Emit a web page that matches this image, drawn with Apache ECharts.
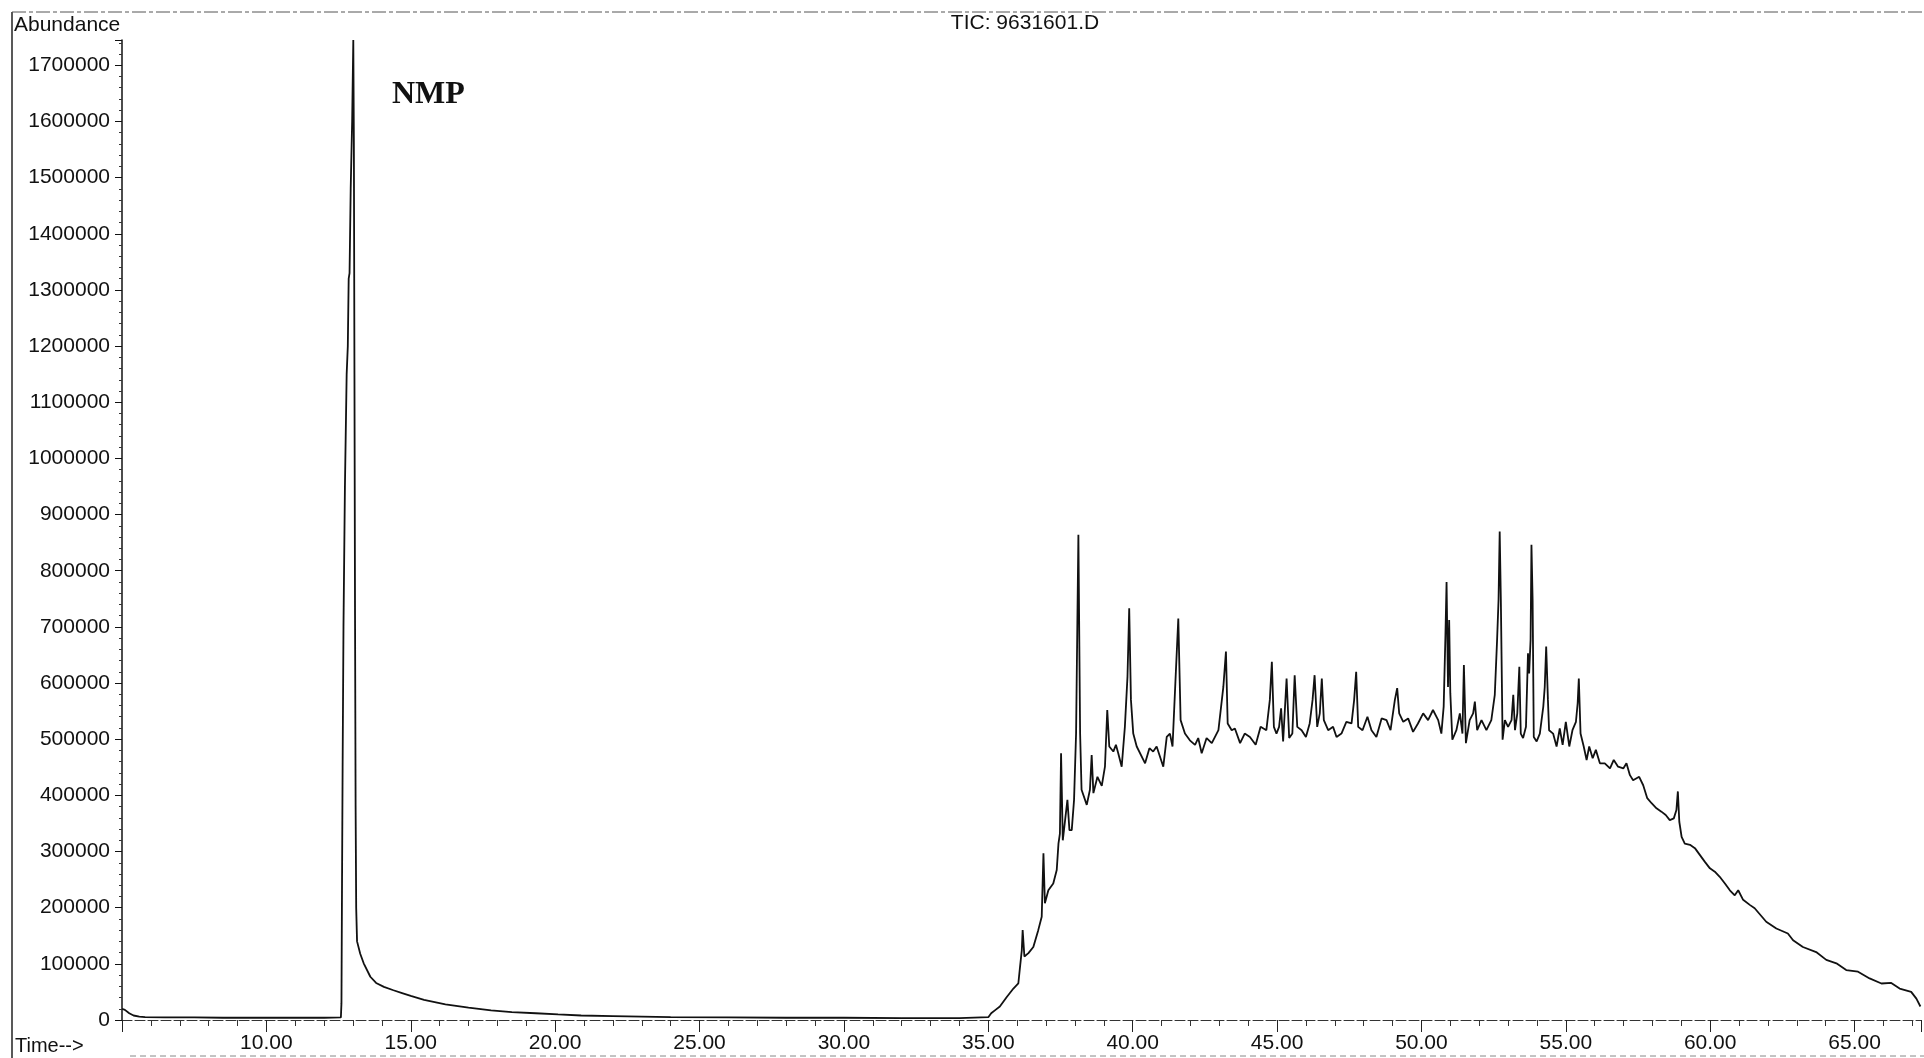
<!DOCTYPE html>
<html>
<head>
<meta charset="utf-8">
<script src="https://cdn.jsdelivr.net/npm/echarts@6/dist/echarts.min.js"></script>
<style>
html,body{margin:0;padding:0;background:#fff;}
#chart{width:1924px;height:1058px;}
</style>
</head>
<body>
<div id="chart"></div>
<script>
// ---- data (time in minutes, abundance) ----
const startTime = [5.0, 5.1, 5.25, 5.4, 5.6, 5.8, 6.5, 7.5, 8.5, 9.5, 10.5, 11.5, 12.0, 12.58];
const startAbundance = [20000, 18000, 12000, 8000, 6000, 5000, 4500, 4500, 4000, 4000, 4000, 4000, 4000, 4500];

const nmpTime = [12.6, 12.62, 12.64, 12.67, 12.72, 12.78, 12.82, 12.85, 12.88, 12.92, 12.97, 13.01, 13.03, 13.05, 13.07, 13.09, 13.11, 13.14];
const nmpAbundance = [30000, 250000, 450000, 700000, 950000, 1150000, 1200000, 1320000, 1330000, 1480000, 1600000, 1745000, 1560000, 1150000, 720000, 380000, 200000, 140000];

const tailTime = [13.25, 13.37, 13.6, 13.8, 14.07, 14.4, 14.7, 15.0, 15.46, 16.2, 17.0, 17.78, 18.5, 19.33, 20.1, 20.9, 22.0, 23.0, 24.0, 26.0, 28.0, 30.0, 32.0, 34.0, 35.0, 35.1, 35.25];
const tailAbundance = [118000, 101000, 77000, 66000, 59000, 53000, 48000, 43000, 36000, 28000, 22000, 17000, 14000, 12000, 10000, 8000, 7000, 6000, 5000, 4500, 4000, 4000, 3500, 3500, 5000, 12000, 18000];

const humpTimeA = [35.4, 35.64, 35.87, 36.04, 36.1, 36.16, 36.19, 36.25, 36.39, 36.56, 36.73, 36.85, 36.91, 36.96, 37.08, 37.25, 37.37, 37.43, 37.48, 37.52, 37.58, 37.66, 37.74, 37.81, 37.89, 37.97, 38.04, 38.12, 38.18, 38.23, 38.41, 38.52, 38.58, 38.64, 38.78, 38.93, 39.04, 39.12, 39.19, 39.33, 39.42, 39.5, 39.62, 39.73, 39.82, 39.88, 39.94, 40.02, 40.14, 40.43, 40.58, 40.71, 40.83, 41.06, 41.18, 41.29, 41.38, 41.48, 41.58, 41.66, 41.81, 41.98, 42.16, 42.27, 42.39, 42.56, 42.74, 42.97, 43.14, 43.23, 43.29, 43.43, 43.54, 43.72, 43.88];
const humpAbundanceA = [24000, 41000, 56000, 65000, 95000, 124000, 160000, 113000, 119000, 130000, 160000, 184000, 297000, 208000, 231000, 243000, 267000, 314000, 332000, 475000, 320000, 356000, 392000, 338000, 338000, 392000, 510000, 864000, 510000, 410000, 383000, 410000, 472000, 404000, 433000, 417000, 451000, 552000, 487000, 478000, 490000, 475000, 451000, 522000, 611000, 733000, 570000, 510000, 487000, 457000, 484000, 478000, 487000, 451000, 504000, 510000, 487000, 602000, 715000, 534000, 510000, 498000, 490000, 502000, 475000, 502000, 493000, 516000, 593000, 656000, 528000, 516000, 519000, 493000, 510000];

const humpTimeB = [44.06, 44.26, 44.43, 44.63, 44.75, 44.82, 44.89, 44.98, 45.07, 45.14, 45.21, 45.33, 45.42, 45.53, 45.61, 45.7, 45.85, 46.0, 46.13, 46.23, 46.3, 46.39, 46.48, 46.55, 46.62, 46.77, 46.94, 47.06, 47.23, 47.4, 47.58, 47.67, 47.74, 47.81, 47.96, 48.13, 48.27, 48.44, 48.62, 48.79, 48.93, 49.08, 49.16, 49.23, 49.37, 49.54, 49.71, 49.88, 50.06, 50.23, 50.4, 50.58, 50.69, 50.77, 50.83, 50.87, 50.92, 50.96, 51.0, 51.07, 51.21, 51.33, 51.42, 51.47, 51.54, 51.67, 51.79, 51.85, 51.93, 52.08, 52.25, 52.42, 52.54];
const humpAbundanceB = [504000, 490000, 522000, 516000, 570000, 638000, 522000, 510000, 522000, 555000, 496000, 608000, 502000, 510000, 614000, 522000, 516000, 504000, 528000, 570000, 614000, 522000, 546000, 608000, 534000, 516000, 522000, 504000, 510000, 531000, 528000, 570000, 620000, 522000, 516000, 540000, 516000, 504000, 537000, 534000, 516000, 570000, 591000, 546000, 531000, 537000, 513000, 528000, 546000, 534000, 552000, 534000, 510000, 558000, 683000, 780000, 593000, 712000, 582000, 499000, 516000, 546000, 510000, 632000, 493000, 534000, 546000, 567000, 516000, 534000, 516000, 534000, 579000];

const humpTimeC = [52.62, 52.67, 52.71, 52.75, 52.81, 52.89, 53.0, 53.12, 53.18, 53.24, 53.32, 53.39, 53.44, 53.52, 53.62, 53.69, 53.73, 53.78, 53.81, 53.85, 53.89, 53.99, 54.1, 54.22, 54.27, 54.32, 54.38, 54.42, 54.56, 54.68, 54.79, 54.89, 55.0, 55.12, 55.23, 55.35, 55.41, 55.45, 55.51, 55.62, 55.72, 55.81, 55.93, 56.04, 56.18, 56.35, 56.53, 56.66, 56.81, 56.99, 57.1, 57.22, 57.33, 57.54, 57.68, 57.82, 57.97, 58.14, 58.31, 58.46, 58.6, 58.74, 58.83, 58.88, 58.93, 59.01, 59.12, 59.3, 59.47, 59.64, 59.81, 59.99, 60.16, 60.33, 60.51, 60.68, 60.85, 60.97, 61.14, 61.37];
const humpAbundanceC = [677000, 748000, 870000, 748000, 499000, 534000, 522000, 534000, 579000, 516000, 546000, 629000, 510000, 502000, 522000, 653000, 617000, 677000, 846000, 748000, 504000, 496000, 510000, 558000, 593000, 665000, 570000, 516000, 510000, 487000, 519000, 490000, 531000, 487000, 516000, 531000, 564000, 608000, 510000, 487000, 463000, 487000, 466000, 481000, 457000, 457000, 448000, 463000, 451000, 448000, 457000, 436000, 427000, 433000, 418000, 395000, 386000, 377000, 371000, 365000, 356000, 359000, 374000, 407000, 353000, 326000, 314000, 312000, 306000, 294000, 282000, 270000, 264000, 255000, 243000, 231000, 222000, 231000, 214000, 205000];

const decayTime = [61.54, 61.94, 62.29, 62.69, 62.87, 63.21, 63.67, 64.02, 64.37, 64.71, 65.12, 65.52, 65.93, 66.27, 66.56, 66.96, 67.14, 67.28];
const decayAbundance = [199000, 175000, 163000, 154000, 142000, 130000, 121000, 107000, 101000, 89000, 86000, 74000, 65000, 66000, 56000, 50000, 38000, 24000];

const yTickValues = [0, 100000, 200000, 300000, 400000, 500000, 600000, 700000, 800000, 900000, 1000000, 1100000, 1200000, 1300000, 1400000, 1500000, 1600000, 1700000];
const xTickLabels = ['10.00', '15.00', '20.00', '25.00', '30.00', '35.00', '40.00', '45.00', '50.00', '55.00', '60.00', '65.00'];

// ---- build series ----
const allTime = [].concat(startTime, nmpTime, tailTime, humpTimeA, humpTimeB, humpTimeC, decayTime);
const allAbundance = [].concat(startAbundance, nmpAbundance, tailAbundance, humpAbundanceA, humpAbundanceB, humpAbundanceC, decayAbundance);
const seriesData = allTime.map((t, i) => [t, allAbundance[i]]);

const FONT = '"Liberation Sans", Arial, sans-serif';
const chart = echarts.init(document.getElementById('chart'), null, {renderer: 'canvas'});

chart.setOption({
  animation: false,
  backgroundColor: '#ffffff',
  grid: {left: 122, right: 3, top: 40, bottom: 38},
  xAxis: {
    type: 'value',
    min: 5,
    max: 67.3,
    interval: 5,
    axisLine: {show: true, lineStyle: {color: '#333', width: 1, type: [10, 3]}},
    axisTick: {show: true, length: 12, lineStyle: {color: '#222', width: 1}},
    minorTick: {show: true, splitNumber: 5, length: 6, lineStyle: {color: '#333', width: 1}},
    splitLine: {show: false},
    axisLabel: {
      fontSize: 21, color: '#111', margin: 13, fontFamily: FONT,
      showMinLabel: false, showMaxLabel: false,
      formatter: function (v) {
        const lbl = v.toFixed(2);
        return xTickLabels.indexOf(lbl) >= 0 ? lbl : '';
      }
    }
  },
  yAxis: {
    type: 'value',
    min: 0,
    max: 1745000,
    interval: 100000,
    axisLine: {show: true, lineStyle: {color: '#111', width: 1.5}},
    axisTick: {show: true, length: 7, lineStyle: {color: '#111', width: 1}},
    minorTick: {show: true, splitNumber: 5, length: 3, lineStyle: {color: '#333', width: 1}},
    splitLine: {show: false},
    axisLabel: {
      fontSize: 21, color: '#111', margin: 12, fontFamily: FONT,
      showMaxLabel: false,
      formatter: function (v) {
        return yTickValues.indexOf(v) >= 0 ? String(v) : '';
      }
    }
  },
  series: [{
    type: 'line',
    data: seriesData,
    showSymbol: false,
    symbol: 'none',
    lineStyle: {color: '#111', width: 1.8},
    silent: true
  }],
  graphic: [
    {type: 'line', shape: {x1: 12, y1: 12, x2: 12, y2: 1058}, style: {stroke: '#222', lineWidth: 1.5}},
    {type: 'line', shape: {x1: 12, y1: 12, x2: 1924, y2: 12}, style: {stroke: '#555', lineWidth: 1, lineDash: [14, 3, 4, 3]}},
    {type: 'line', shape: {x1: 130, y1: 1056, x2: 1924, y2: 1056}, style: {stroke: '#888', lineWidth: 1, lineDash: [6, 4]}},
    {type: 'text', x: 14, y: 25, style: {text: 'Abundance', font: '21px ' + FONT, fill: '#111', align: 'left', verticalAlign: 'middle'}},
    {type: 'text', x: 1025, y: 23, style: {text: 'TIC: 9631601.D', font: '21px ' + FONT, fill: '#111', align: 'center', verticalAlign: 'middle'}},
    {type: 'text', x: 15, y: 1046, style: {text: 'Time-->', font: '20px ' + FONT, fill: '#111', align: 'left', verticalAlign: 'middle'}},
    {type: 'text', x: 392, y: 95, style: {text: 'NMP', font: 'bold 32px "Liberation Serif", "Times New Roman", serif', fill: '#111', align: 'left', verticalAlign: 'middle'}}
  ]
});
</script>
</body>
</html>
